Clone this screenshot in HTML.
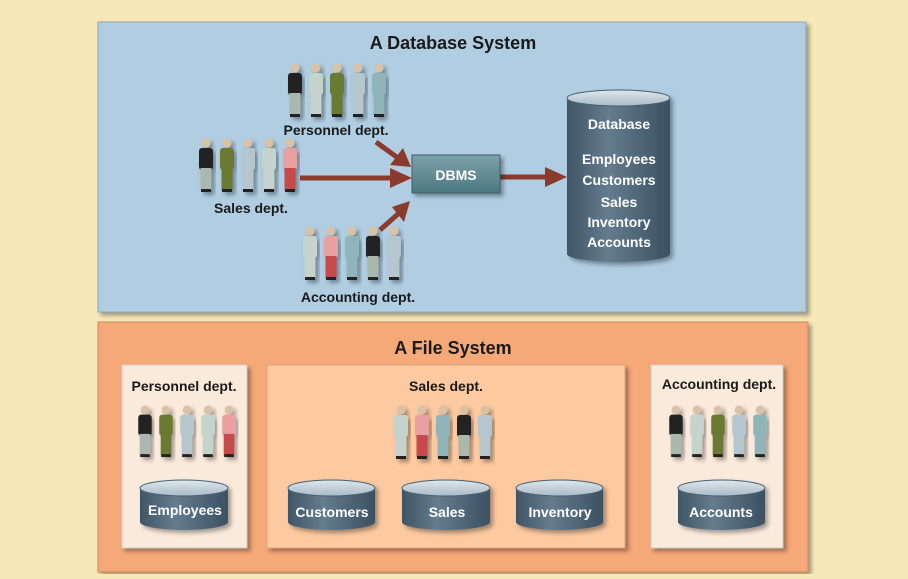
<!DOCTYPE html>
<html><head><meta charset="utf-8"><style>
html,body{margin:0;padding:0;}
body{width:908px;height:574px;overflow:hidden;background:#f7e8b8;}
svg text{font-family:"Liberation Sans",sans-serif;font-weight:bold;}
</style></head><body>
<svg id="s" width="908" height="574" viewBox="0 0 908 574" xmlns="http://www.w3.org/2000/svg">
<defs>
<linearGradient id="cyl" x1="0" x2="1" y1="0" y2="0">
<stop offset="0" stop-color="#3f5667"/><stop offset="0.4" stop-color="#647c8e"/><stop offset="1" stop-color="#3b5162"/></linearGradient>
<linearGradient id="top" x1="0" x2="0" y1="0" y2="1">
<stop offset="0" stop-color="#dfe7ed"/><stop offset="1" stop-color="#a9bac7"/></linearGradient>
<linearGradient id="dbms" x1="0" x2="0" y1="0" y2="1">
<stop offset="0" stop-color="#7ba2aa"/><stop offset="1" stop-color="#4e7781"/></linearGradient>
<filter id="sh" x="-10%" y="-10%" width="130%" height="130%"><feDropShadow dx="3" dy="3" stdDeviation="2" flood-color="#000" flood-opacity="0.35"/></filter>
</defs>
<!-- top panel -->
<rect x="98" y="22" width="708" height="290" fill="#b0cde2" stroke="#8ea9bd" filter="url(#sh)"/>
<text x="453" y="49" text-anchor="middle" font-size="18" fill="#1a1a1a">A Database System</text>
<!-- bottom panel -->
<rect x="98" y="322" width="710" height="250" fill="#f5a878" stroke="#d08a5c" filter="url(#sh)"/>
<text x="453" y="354" text-anchor="middle" font-size="18" fill="#1a1a1a">A File System</text>
<rect x="122" y="365" width="125" height="183" fill="#faeadc" stroke="#ccc" filter="url(#sh)"/>
<rect x="267" y="365" width="358" height="183" fill="#fcc9a0" stroke="#e0a67e" filter="url(#sh)"/>
<rect x="651" y="365" width="132" height="183" fill="#faeadc" stroke="#ccc" filter="url(#sh)"/>
<g font-size="14" fill="#1a1a1a" text-anchor="middle">
<text x="184" y="391">Personnel dept.</text>
<text x="446" y="391">Sales dept.</text>
<text x="719" y="389">Accounting dept.</text>
<text x="336" y="135">Personnel dept.</text>
<text x="251" y="213">Sales dept.</text>
<text x="358" y="302">Accounting dept.</text>
</g>
<!-- arrows -->
<g stroke="#8b3a2c" stroke-width="5" fill="#8b3a2c">
<line x1="376" y1="142" x2="398" y2="158"/>
<polygon points="411,167 390,165 403,148" stroke="none"/>
<line x1="300" y1="178" x2="392" y2="178"/>
<polygon points="412,178 390,168 390,188" stroke="none"/>
<line x1="380" y1="230" x2="398" y2="214"/>
<polygon points="410,201 392,207 404,222" stroke="none"/>
<line x1="500" y1="177" x2="548" y2="177"/>
<polygon points="567,177 545,167 545,187" stroke="none"/>
</g>
<rect x="412" y="155" width="88" height="38" fill="url(#dbms)" stroke="#3e5f68" filter="url(#sh)"/>
<text x="456" y="180" text-anchor="middle" font-size="14" fill="#fff">DBMS</text>
<g id="cyls"></g>
<g id="ppl"></g>
<g font-size="14" fill="#fff" text-anchor="middle">
<text x="619" y="129">Database</text>
<text x="619" y="164">Employees</text>
<text x="619" y="185">Customers</text>
<text x="619" y="207">Sales</text>
<text x="619" y="227">Inventory</text>
<text x="619" y="247">Accounts</text>
<text x="185" y="515">Employees</text>
<text x="332" y="517">Customers</text>
<text x="447" y="517">Sales</text>
<text x="560" y="517">Inventory</text>
<text x="721" y="517">Accounts</text>
</g>
</svg>
<script>
var ns="http://www.w3.org/2000/svg";
function el(p,t,a){var e=document.createElementNS(ns,t);for(var k in a)e.setAttribute(k,a[k]);p.appendChild(e);return e;}
var C=document.getElementById('cyls');
function cyl(x,y,w,h,ry){
 var g=el(C,'g',{filter:'url(#sh)'});
 el(g,'path',{d:'M'+x+' '+(y+ry)+' L'+x+' '+(y+h-ry)+' A'+(w/2)+' '+ry+' 0 0 0 '+(x+w)+' '+(y+h-ry)+' L'+(x+w)+' '+(y+ry)+' Z',fill:'url(#cyl)'});
 el(g,'ellipse',{cx:x+w/2,cy:y+ry,rx:w/2,ry:ry,fill:'url(#top)',stroke:'#4a6071'});
}
// Big cylinder drawn first so text on top
cyl(567,90,103,172,8);
cyl(140,480,88,50,8);cyl(288,480,87,50,8);cyl(402,480,88,50,8);cyl(516,480,87,50,8);cyl(678,480,87,50,8);
var P=document.getElementById('ppl');
var cols=[["#222","#aab8b0"],["#c4d4cc","#c4d4cc"],["#6b7a30","#6b7a30"],["#b5c6cf","#b5c6cf"],["#8fb5ba","#8fb5ba"],["#e8a0a0","#c84848"]];
function grp(x,y,h,seq){
 for(var i=0;i<seq.length;i++){
  var c=cols[seq[i]],cx=x+i*21+8,s=h/55;
  var g=el(P,'g',{filter:'url(#sh)'});
  el(g,'circle',{cx:cx,cy:y+5*s,r:4.5*s,fill:'#d9c2a5'});
  el(g,'rect',{x:cx-7*s,y:y+10*s,width:14*s,height:22*s,rx:3,fill:c[0]});
  el(g,'rect',{x:cx-5.5*s,y:y+30*s,width:11*s,height:22*s,fill:c[1]});
  el(g,'rect',{x:cx-5*s,y:y+51*s,width:10*s,height:3*s,fill:'#222'});
 }
}
grp(287,63,55,[0,1,2,3,4]);
grp(198,138,55,[0,2,3,1,5]);
grp(302,226,55,[1,5,4,0,3]);
grp(137,405,53,[0,2,3,1,5]);
grp(393,405,55,[1,5,4,0,3]);
grp(668,405,53,[0,1,2,3,4]);
</script>
</body></html>
